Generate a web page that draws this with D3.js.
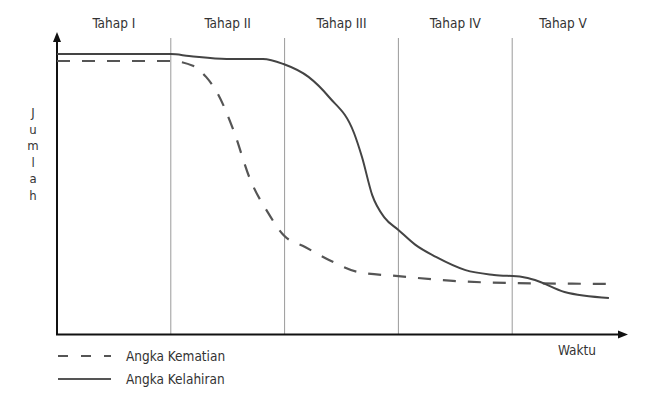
<!DOCTYPE html>
<html><head><meta charset="utf-8">
<script src="https://cdn.jsdelivr.net/npm/d3@7"></script>
<style>body{margin:0;background:#fff}svg{display:block}text{font-family:"DejaVu Sans Condensed","DejaVu Sans",sans-serif}</style>
</head><body><svg id="c" width="645" height="395"></svg>
<script>
const stages = ["Tahap I","Tahap II","Tahap III","Tahap IV","Tahap V"];
const yLabel = "Jumlah";
const xLabel = "Waktu";
const seriesNames = ["Angka Kematian","Angka Kelahiran"];
// time in stage units, value in arbitrary units
const deathT = [0,1,1.2,1.31,1.41,1.55,1.7,1.85,1.99,2.18,2.39,2.64,3.0,3.48,4.0,4.92];
const deathV = [91,91,89.3,85.7,80.3,68,51.3,40.7,33,29,24.7,20.7,19.3,17.7,17,16.7];
const birthT = [0,1,1.16,1.49,1.81,1.99,2.21,2.39,2.61,2.68,2.77,2.88,3.0,3.15,3.33,3.59,3.84,4.09,4.2,4.46,4.85];
const birthV = [93.3,93.3,92.7,91.7,91.7,90,85.7,79,67,59,46.3,38.7,34.7,29.7,25.7,21.3,19.7,19,18,14,12];

const svg = d3.select("#c");
const x = d3.scaleLinear().domain([0,5]).range([57,626]);
const y = d3.scaleLinear().domain([0,100]).range([334,34]);
const tc = "#333";

svg.selectAll("line.sep").data(d3.range(1,5)).join("line")
  .attr("x1",d=>x(d)).attr("x2",d=>x(d)).attr("y1",38).attr("y2",334)
  .attr("stroke","#9a9a9a").attr("stroke-width",1);
svg.selectAll("text.st").data(stages).join("text")
  .attr("x",(d,i)=>x(i+0.5)+(i===4?-6:0)).attr("y",28).attr("text-anchor","middle")
  .attr("font-size",13.5).attr("fill",tc).text(d=>d);

svg.append("line").attr("x1",57).attr("x2",57).attr("y1",335).attr("y2",40).attr("stroke","#111").attr("stroke-width",2);
svg.append("path").attr("d","M57,32 L53,42 L61,42 Z").attr("fill","#111");
svg.append("line").attr("x1",56).attr("x2",620).attr("y1",334.5).attr("y2",334.5).attr("stroke","#111").attr("stroke-width",2);
svg.append("path").attr("d","M628,334.5 L618,330.5 L618,338.5 Z").attr("fill","#111");

svg.append("g").attr("opacity",0.99).selectAll("text").data(yLabel.split("")).join("text")
  .attr("x",33).attr("y",(d,i)=>117+i*16.6).attr("text-anchor","middle").attr("font-size",13).attr("fill",tc).text(d=>d);
svg.append("text").attr("x",577).attr("y",355).attr("text-anchor","middle").attr("font-size",13.5).attr("fill",tc).text(xLabel);

const line = d3.line().x(d=>x(d[0])).y(d=>y(d[1])).curve(d3.curveMonotoneX);
svg.append("path").datum(deathT.map((t,i)=>[t,deathV[i]])).attr("d",line)
  .attr("fill","none").attr("stroke","#555").attr("stroke-width",2.2).attr("stroke-dasharray","13,12");
svg.append("path").datum(birthT.map((t,i)=>[t,birthV[i]])).attr("d",line)
  .attr("fill","none").attr("stroke","#444").attr("stroke-width",2);

const lg = [{n:seriesNames[0],dash:"10,13",y:356},{n:seriesNames[1],dash:null,y:379}];
lg.forEach(d=>{
  svg.append("line").attr("x1",58).attr("x2",111).attr("y1",d.y).attr("y2",d.y)
    .attr("stroke","#555").attr("stroke-width",2).attr("stroke-dasharray",d.dash);
  svg.append("text").attr("x",126).attr("y",d.y+5).attr("font-size",13.5).attr("fill",tc).text(d.n);
});
</script></body></html>
